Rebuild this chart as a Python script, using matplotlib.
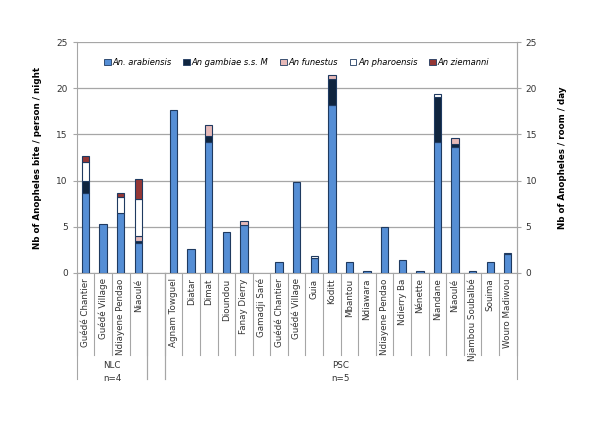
import numpy as np
import matplotlib.pyplot as plt
from matplotlib.patches import Patch

# categories (empty string = blank slot between the two groups)
villages = ["Guédé Chantier", "Guédé Village", "Ndiayene Pendao", "Niaoulé", "",
            "Agnam Towguel", "Diatar", "Dimat", "Dioundou", "Fanay Dierry",
            "Gamadji Saré", "Guédé Chantier", "Guédé Village", "Guia", "Koditt",
            "Mbantou", "Ndiawara", "Ndiayene Pendao", "Ndierry Ba", "Nénette",
            "Niandane", "Niaoulé", "Njambou Soubalbé", "Souima", "Wouro Madiwou"]

arabiensis = [8.7, 5.3, 6.5, 3.2, 0,
              17.6, 2.6, 14.2, 4.4, 5.2, 0, 1.2, 9.8, 1.6, 18.2,
              1.2, 0.2, 5.0, 1.4, 0.2, 14.2, 13.6, 0.2, 1.2, 2.0]
gambiae = [1.3, 0, 0, 0.3, 0,
           0, 0, 0.6, 0, 0, 0, 0, 0, 0, 2.8,
           0, 0, 0, 0, 0, 4.8, 0.4, 0, 0, 0]
funestus = [0, 0, 0, 0.5, 0,
            0, 0, 1.2, 0, 0.4, 0, 0, 0, 0, 0.4,
            0, 0, 0, 0, 0, 0, 0.6, 0, 0, 0]
pharoensis = [2.0, 0, 1.7, 4.0, 0,
              0, 0, 0, 0, 0, 0, 0, 0, 0.2, 0,
              0, 0, 0, 0, 0, 0.4, 0, 0, 0, 0.2]
ziemanni = [0.7, 0, 0.5, 2.2, 0,
            0, 0, 0, 0, 0, 0, 0, 0, 0, 0,
            0, 0, 0, 0, 0, 0, 0, 0, 0, 0]

groups = [("NLC\nn=4", 0, 4), ("", 4, 5), ("PSC\nn=5", 5, 25)]

series = [("An. arabiensis", arabiensis, "#558ED5"),
          ("An gambiae s.s. M", gambiae, "#10253F"),
          ("An funestus", funestus, "#E6B9B8"),
          ("An pharoensis", pharoensis, "#FFFFFF"),
          ("An ziemanni", ziemanni, "#953735")]

plt.rcParams['font.family'] = ['DejaVu Sans']
fig = plt.figure(figsize=(6, 4.25), dpi=100)
ax = fig.add_axes([0.128, 0.358, 0.733, 0.543])

x = np.arange(len(villages))
bottom = np.zeros(len(villages))
handles = []
for name, vals, col in series:
    vals = np.array(vals, dtype=float)
    lw = np.where(vals > 0, 0.8, 0.0)
    ax.bar(x, vals, 0.42, bottom=bottom, color=col, edgecolor="#1F3A60",
           linewidth=lw, zorder=3)
    bottom += vals
    handles.append(Patch(facecolor=col, edgecolor="#1F3A60", linewidth=0.6, label=name))

gray = "#A6A6A6"
ax.set_xlim(-0.5, len(villages) - 0.5)
ax.set_ylim(0, 25)
ax.set_yticks(range(0, 26, 5))
ax.grid(axis="y", color=gray, linewidth=0.9, zorder=0)
ax.spines["top"].set_visible(False)
for s in ["left", "right", "bottom"]:
    ax.spines[s].set_color(gray)
ax.tick_params(axis="y", labelsize=6.5, color=gray, length=3, labelcolor="#333333")
ax.set_xticks(x)
ax.set_xticklabels(villages, rotation=90, fontsize=6.3, color="#333333")
ax.tick_params(axis="x", length=0, pad=4)
ax.set_ylabel("Nb of Anopheles bite / person / night", fontsize=6.3,
              fontweight="bold", labelpad=10)

ax2 = ax.twinx()
ax2.set_ylim(0, 25)
ax2.set_yticks(range(0, 26, 5))
ax2.tick_params(axis="y", labelsize=6.5, color=gray, length=3, labelcolor="#333333")
for s in ["top", "left", "bottom"]:
    ax2.spines[s].set_visible(False)
ax2.spines["right"].set_color(gray)
ax2.set_ylabel("Nb of Anopheles / room / day", fontsize=6.3, fontweight="bold", labelpad=15)

# category separators and group labels under the axis
tr = ax.get_xaxis_transform()
for i in range(len(villages) + 1):
    ax.plot([i - 0.5, i - 0.5], [0, -0.357], transform=tr, color=gray,
            linewidth=0.8, clip_on=False)
for label, a, b in groups:
    for edge in (a, b):
        ax.plot([edge - 0.5, edge - 0.5], [0, -0.46], transform=tr, color=gray,
                linewidth=0.8, clip_on=False)
    ax.text((a + b - 1) / 2, -0.43, label, transform=tr, ha="center", va="center",
            fontsize=6.3, color="#333333", linespacing=1.6)

leg = ax.legend(handles=handles, loc="upper center", ncol=5, frameon=False,
                fontsize=6, handlelength=0.8, handleheight=0.8, handletextpad=0.2,
                columnspacing=1.4, bbox_to_anchor=(0.5, 0.965))
for t in leg.get_texts():
    t.set_fontstyle("italic")

fig.savefig("out.png", dpi=100)
